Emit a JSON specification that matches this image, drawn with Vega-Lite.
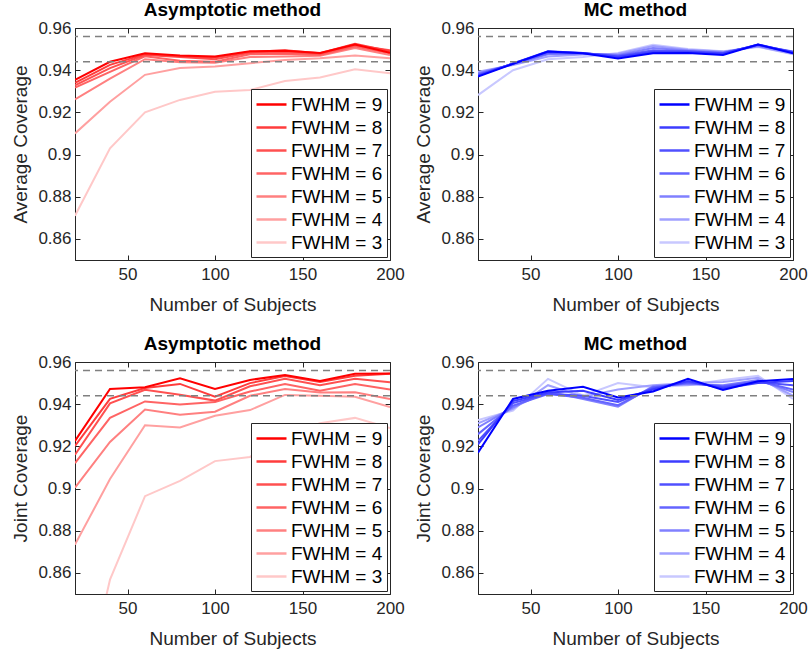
{
  "$schema": "https://vega.github.io/schema/vega-lite/v6.json",
  "padding": {"left": 11, "top": 0, "right": 0, "bottom": 5},
  "background": "white",
  "datasets": {
    "refs": [{"ref": 0.944}, {"ref": 0.956}],
    "cov": [
      {"p":"TL","f":"FWHM = 3","n":20,"c":0.8710},{"p":"TL","f":"FWHM = 3","n":40,"c":0.9030},{"p":"TL","f":"FWHM = 3","n":60,"c":0.9200},{"p":"TL","f":"FWHM = 3","n":80,"c":0.9259},{"p":"TL","f":"FWHM = 3","n":100,"c":0.9298},{"p":"TL","f":"FWHM = 3","n":120,"c":0.9306},{"p":"TL","f":"FWHM = 3","n":140,"c":0.9349},{"p":"TL","f":"FWHM = 3","n":160,"c":0.9365},{"p":"TL","f":"FWHM = 3","n":180,"c":0.9404},{"p":"TL","f":"FWHM = 3","n":200,"c":0.9385},
      {"p":"TL","f":"FWHM = 4","n":20,"c":0.9100},{"p":"TL","f":"FWHM = 4","n":40,"c":0.9250},{"p":"TL","f":"FWHM = 4","n":60,"c":0.9378},{"p":"TL","f":"FWHM = 4","n":80,"c":0.9410},{"p":"TL","f":"FWHM = 4","n":100,"c":0.9417},{"p":"TL","f":"FWHM = 4","n":120,"c":0.9433},{"p":"TL","f":"FWHM = 4","n":140,"c":0.9448},{"p":"TL","f":"FWHM = 4","n":160,"c":0.9456},{"p":"TL","f":"FWHM = 4","n":180,"c":0.9470},{"p":"TL","f":"FWHM = 4","n":200,"c":0.9456},
      {"p":"TL","f":"FWHM = 5","n":20,"c":0.9262},{"p":"TL","f":"FWHM = 5","n":40,"c":0.9360},{"p":"TL","f":"FWHM = 5","n":60,"c":0.9452},{"p":"TL","f":"FWHM = 5","n":80,"c":0.9438},{"p":"TL","f":"FWHM = 5","n":100,"c":0.9435},{"p":"TL","f":"FWHM = 5","n":120,"c":0.9462},{"p":"TL","f":"FWHM = 5","n":140,"c":0.9465},{"p":"TL","f":"FWHM = 5","n":160,"c":0.9468},{"p":"TL","f":"FWHM = 5","n":180,"c":0.9505},{"p":"TL","f":"FWHM = 5","n":200,"c":0.9472},
      {"p":"TL","f":"FWHM = 6","n":20,"c":0.9318},{"p":"TL","f":"FWHM = 6","n":40,"c":0.9392},{"p":"TL","f":"FWHM = 6","n":60,"c":0.9466},{"p":"TL","f":"FWHM = 6","n":80,"c":0.9445},{"p":"TL","f":"FWHM = 6","n":100,"c":0.9440},{"p":"TL","f":"FWHM = 6","n":120,"c":0.9475},{"p":"TL","f":"FWHM = 6","n":140,"c":0.9478},{"p":"TL","f":"FWHM = 6","n":160,"c":0.9472},{"p":"TL","f":"FWHM = 6","n":180,"c":0.9512},{"p":"TL","f":"FWHM = 6","n":200,"c":0.9480},
      {"p":"TL","f":"FWHM = 7","n":20,"c":0.9328},{"p":"TL","f":"FWHM = 7","n":40,"c":0.9410},{"p":"TL","f":"FWHM = 7","n":60,"c":0.9472},{"p":"TL","f":"FWHM = 7","n":80,"c":0.9462},{"p":"TL","f":"FWHM = 7","n":100,"c":0.9452},{"p":"TL","f":"FWHM = 7","n":120,"c":0.9482},{"p":"TL","f":"FWHM = 7","n":140,"c":0.9485},{"p":"TL","f":"FWHM = 7","n":160,"c":0.9478},{"p":"TL","f":"FWHM = 7","n":180,"c":0.9518},{"p":"TL","f":"FWHM = 7","n":200,"c":0.9495},
      {"p":"TL","f":"FWHM = 8","n":20,"c":0.9340},{"p":"TL","f":"FWHM = 8","n":40,"c":0.9425},{"p":"TL","f":"FWHM = 8","n":60,"c":0.9476},{"p":"TL","f":"FWHM = 8","n":80,"c":0.9466},{"p":"TL","f":"FWHM = 8","n":100,"c":0.9460},{"p":"TL","f":"FWHM = 8","n":120,"c":0.9487},{"p":"TL","f":"FWHM = 8","n":140,"c":0.9495},{"p":"TL","f":"FWHM = 8","n":160,"c":0.9480},{"p":"TL","f":"FWHM = 8","n":180,"c":0.9525},{"p":"TL","f":"FWHM = 8","n":200,"c":0.9490},
      {"p":"TL","f":"FWHM = 9","n":20,"c":0.9354},{"p":"TL","f":"FWHM = 9","n":40,"c":0.9440},{"p":"TL","f":"FWHM = 9","n":60,"c":0.9480},{"p":"TL","f":"FWHM = 9","n":80,"c":0.9470},{"p":"TL","f":"FWHM = 9","n":100,"c":0.9465},{"p":"TL","f":"FWHM = 9","n":120,"c":0.9490},{"p":"TL","f":"FWHM = 9","n":140,"c":0.9492},{"p":"TL","f":"FWHM = 9","n":160,"c":0.9482},{"p":"TL","f":"FWHM = 9","n":180,"c":0.9522},{"p":"TL","f":"FWHM = 9","n":200,"c":0.9482},

      {"p":"TR","f":"FWHM = 3","n":20,"c":0.9282},{"p":"TR","f":"FWHM = 3","n":40,"c":0.9400},{"p":"TR","f":"FWHM = 3","n":60,"c":0.9452},{"p":"TR","f":"FWHM = 3","n":80,"c":0.9462},{"p":"TR","f":"FWHM = 3","n":100,"c":0.9482},{"p":"TR","f":"FWHM = 3","n":120,"c":0.9520},{"p":"TR","f":"FWHM = 3","n":140,"c":0.9500},{"p":"TR","f":"FWHM = 3","n":160,"c":0.9490},{"p":"TR","f":"FWHM = 3","n":180,"c":0.9510},{"p":"TR","f":"FWHM = 3","n":200,"c":0.9475},
      {"p":"TR","f":"FWHM = 4","n":20,"c":0.9393},{"p":"TR","f":"FWHM = 4","n":40,"c":0.9425},{"p":"TR","f":"FWHM = 4","n":60,"c":0.9465},{"p":"TR","f":"FWHM = 4","n":80,"c":0.9474},{"p":"TR","f":"FWHM = 4","n":100,"c":0.9478},{"p":"TR","f":"FWHM = 4","n":120,"c":0.9515},{"p":"TR","f":"FWHM = 4","n":140,"c":0.9497},{"p":"TR","f":"FWHM = 4","n":160,"c":0.9488},{"p":"TR","f":"FWHM = 4","n":180,"c":0.9512},{"p":"TR","f":"FWHM = 4","n":200,"c":0.9478},
      {"p":"TR","f":"FWHM = 5","n":20,"c":0.9385},{"p":"TR","f":"FWHM = 5","n":40,"c":0.9428},{"p":"TR","f":"FWHM = 5","n":60,"c":0.9475},{"p":"TR","f":"FWHM = 5","n":80,"c":0.9478},{"p":"TR","f":"FWHM = 5","n":100,"c":0.9472},{"p":"TR","f":"FWHM = 5","n":120,"c":0.9505},{"p":"TR","f":"FWHM = 5","n":140,"c":0.9493},{"p":"TR","f":"FWHM = 5","n":160,"c":0.9485},{"p":"TR","f":"FWHM = 5","n":180,"c":0.9515},{"p":"TR","f":"FWHM = 5","n":200,"c":0.9482},
      {"p":"TR","f":"FWHM = 6","n":20,"c":0.9380},{"p":"TR","f":"FWHM = 6","n":40,"c":0.9430},{"p":"TR","f":"FWHM = 6","n":60,"c":0.9480},{"p":"TR","f":"FWHM = 6","n":80,"c":0.9480},{"p":"TR","f":"FWHM = 6","n":100,"c":0.9468},{"p":"TR","f":"FWHM = 6","n":120,"c":0.9495},{"p":"TR","f":"FWHM = 6","n":140,"c":0.9490},{"p":"TR","f":"FWHM = 6","n":160,"c":0.9482},{"p":"TR","f":"FWHM = 6","n":180,"c":0.9518},{"p":"TR","f":"FWHM = 6","n":200,"c":0.9488},
      {"p":"TR","f":"FWHM = 7","n":20,"c":0.9376},{"p":"TR","f":"FWHM = 7","n":40,"c":0.9432},{"p":"TR","f":"FWHM = 7","n":60,"c":0.9485},{"p":"TR","f":"FWHM = 7","n":80,"c":0.9481},{"p":"TR","f":"FWHM = 7","n":100,"c":0.9465},{"p":"TR","f":"FWHM = 7","n":120,"c":0.9490},{"p":"TR","f":"FWHM = 7","n":140,"c":0.9488},{"p":"TR","f":"FWHM = 7","n":160,"c":0.9480},{"p":"TR","f":"FWHM = 7","n":180,"c":0.9520},{"p":"TR","f":"FWHM = 7","n":200,"c":0.9486},
      {"p":"TR","f":"FWHM = 8","n":20,"c":0.9373},{"p":"TR","f":"FWHM = 8","n":40,"c":0.9432},{"p":"TR","f":"FWHM = 8","n":60,"c":0.9490},{"p":"TR","f":"FWHM = 8","n":80,"c":0.9482},{"p":"TR","f":"FWHM = 8","n":100,"c":0.9462},{"p":"TR","f":"FWHM = 8","n":120,"c":0.9485},{"p":"TR","f":"FWHM = 8","n":140,"c":0.9485},{"p":"TR","f":"FWHM = 8","n":160,"c":0.9478},{"p":"TR","f":"FWHM = 8","n":180,"c":0.9522},{"p":"TR","f":"FWHM = 8","n":200,"c":0.9484},
      {"p":"TR","f":"FWHM = 9","n":20,"c":0.9370},{"p":"TR","f":"FWHM = 9","n":40,"c":0.9430},{"p":"TR","f":"FWHM = 9","n":60,"c":0.9488},{"p":"TR","f":"FWHM = 9","n":80,"c":0.9480},{"p":"TR","f":"FWHM = 9","n":100,"c":0.9455},{"p":"TR","f":"FWHM = 9","n":120,"c":0.9480},{"p":"TR","f":"FWHM = 9","n":140,"c":0.9482},{"p":"TR","f":"FWHM = 9","n":160,"c":0.9472},{"p":"TR","f":"FWHM = 9","n":180,"c":0.9522},{"p":"TR","f":"FWHM = 9","n":200,"c":0.9480},

      {"p":"BL","f":"FWHM = 3","n":20,"c":0.7850},{"p":"BL","f":"FWHM = 3","n":40,"c":0.8568},{"p":"BL","f":"FWHM = 3","n":60,"c":0.8964},{"p":"BL","f":"FWHM = 3","n":80,"c":0.9036},{"p":"BL","f":"FWHM = 3","n":100,"c":0.9130},{"p":"BL","f":"FWHM = 3","n":120,"c":0.9150},{"p":"BL","f":"FWHM = 3","n":140,"c":0.9250},{"p":"BL","f":"FWHM = 3","n":160,"c":0.9310},{"p":"BL","f":"FWHM = 3","n":180,"c":0.9335},{"p":"BL","f":"FWHM = 3","n":200,"c":0.9287},
      {"p":"BL","f":"FWHM = 4","n":20,"c":0.8734},{"p":"BL","f":"FWHM = 4","n":40,"c":0.9045},{"p":"BL","f":"FWHM = 4","n":60,"c":0.9300},{"p":"BL","f":"FWHM = 4","n":80,"c":0.9290},{"p":"BL","f":"FWHM = 4","n":100,"c":0.9345},{"p":"BL","f":"FWHM = 4","n":120,"c":0.9372},{"p":"BL","f":"FWHM = 4","n":140,"c":0.9444},{"p":"BL","f":"FWHM = 4","n":160,"c":0.9440},{"p":"BL","f":"FWHM = 4","n":180,"c":0.9435},{"p":"BL","f":"FWHM = 4","n":200,"c":0.9387},
      {"p":"BL","f":"FWHM = 5","n":20,"c":0.9004},{"p":"BL","f":"FWHM = 5","n":40,"c":0.9221},{"p":"BL","f":"FWHM = 5","n":60,"c":0.9375},{"p":"BL","f":"FWHM = 5","n":80,"c":0.9350},{"p":"BL","f":"FWHM = 5","n":100,"c":0.9364},{"p":"BL","f":"FWHM = 5","n":120,"c":0.9440},{"p":"BL","f":"FWHM = 5","n":140,"c":0.9472},{"p":"BL","f":"FWHM = 5","n":160,"c":0.9455},{"p":"BL","f":"FWHM = 5","n":180,"c":0.9456},{"p":"BL","f":"FWHM = 5","n":200,"c":0.9425},
      {"p":"BL","f":"FWHM = 6","n":20,"c":0.9120},{"p":"BL","f":"FWHM = 6","n":40,"c":0.9335},{"p":"BL","f":"FWHM = 6","n":60,"c":0.9413},{"p":"BL","f":"FWHM = 6","n":80,"c":0.9398},{"p":"BL","f":"FWHM = 6","n":100,"c":0.9410},{"p":"BL","f":"FWHM = 6","n":120,"c":0.9460},{"p":"BL","f":"FWHM = 6","n":140,"c":0.9496},{"p":"BL","f":"FWHM = 6","n":160,"c":0.9464},{"p":"BL","f":"FWHM = 6","n":180,"c":0.9496},{"p":"BL","f":"FWHM = 6","n":200,"c":0.9470},
      {"p":"BL","f":"FWHM = 7","n":20,"c":0.9160},{"p":"BL","f":"FWHM = 7","n":40,"c":0.9404},{"p":"BL","f":"FWHM = 7","n":60,"c":0.9468},{"p":"BL","f":"FWHM = 7","n":80,"c":0.9445},{"p":"BL","f":"FWHM = 7","n":100,"c":0.9417},{"p":"BL","f":"FWHM = 7","n":120,"c":0.9485},{"p":"BL","f":"FWHM = 7","n":140,"c":0.9520},{"p":"BL","f":"FWHM = 7","n":160,"c":0.9490},{"p":"BL","f":"FWHM = 7","n":180,"c":0.9520},{"p":"BL","f":"FWHM = 7","n":200,"c":0.9504},
      {"p":"BL","f":"FWHM = 8","n":20,"c":0.9202},{"p":"BL","f":"FWHM = 8","n":40,"c":0.9425},{"p":"BL","f":"FWHM = 8","n":60,"c":0.9477},{"p":"BL","f":"FWHM = 8","n":80,"c":0.9496},{"p":"BL","f":"FWHM = 8","n":100,"c":0.9435},{"p":"BL","f":"FWHM = 8","n":120,"c":0.9500},{"p":"BL","f":"FWHM = 8","n":140,"c":0.9533},{"p":"BL","f":"FWHM = 8","n":160,"c":0.9505},{"p":"BL","f":"FWHM = 8","n":180,"c":0.9535},{"p":"BL","f":"FWHM = 8","n":200,"c":0.9544},
      {"p":"BL","f":"FWHM = 9","n":20,"c":0.9226},{"p":"BL","f":"FWHM = 9","n":40,"c":0.9472},{"p":"BL","f":"FWHM = 9","n":60,"c":0.9480},{"p":"BL","f":"FWHM = 9","n":80,"c":0.9523},{"p":"BL","f":"FWHM = 9","n":100,"c":0.9472},{"p":"BL","f":"FWHM = 9","n":120,"c":0.9515},{"p":"BL","f":"FWHM = 9","n":140,"c":0.9538},{"p":"BL","f":"FWHM = 9","n":160,"c":0.9510},{"p":"BL","f":"FWHM = 9","n":180,"c":0.9544},{"p":"BL","f":"FWHM = 9","n":200,"c":0.9546},

      {"p":"BR","f":"FWHM = 3","n":20,"c":0.9325},{"p":"BR","f":"FWHM = 3","n":40,"c":0.9370},{"p":"BR","f":"FWHM = 3","n":60,"c":0.9520},{"p":"BR","f":"FWHM = 3","n":80,"c":0.9440},{"p":"BR","f":"FWHM = 3","n":100,"c":0.9500},{"p":"BR","f":"FWHM = 3","n":120,"c":0.9480},{"p":"BR","f":"FWHM = 3","n":140,"c":0.9490},{"p":"BR","f":"FWHM = 3","n":160,"c":0.9515},{"p":"BR","f":"FWHM = 3","n":180,"c":0.9535},{"p":"BR","f":"FWHM = 3","n":200,"c":0.9425},
      {"p":"BR","f":"FWHM = 4","n":20,"c":0.9309},{"p":"BR","f":"FWHM = 4","n":40,"c":0.9378},{"p":"BR","f":"FWHM = 4","n":60,"c":0.9490},{"p":"BR","f":"FWHM = 4","n":80,"c":0.9435},{"p":"BR","f":"FWHM = 4","n":100,"c":0.9470},{"p":"BR","f":"FWHM = 4","n":120,"c":0.9490},{"p":"BR","f":"FWHM = 4","n":140,"c":0.9500},{"p":"BR","f":"FWHM = 4","n":160,"c":0.9505},{"p":"BR","f":"FWHM = 4","n":180,"c":0.9525},{"p":"BR","f":"FWHM = 4","n":200,"c":0.9440},
      {"p":"BR","f":"FWHM = 5","n":20,"c":0.9290},{"p":"BR","f":"FWHM = 5","n":40,"c":0.9385},{"p":"BR","f":"FWHM = 5","n":60,"c":0.9460},{"p":"BR","f":"FWHM = 5","n":80,"c":0.9425},{"p":"BR","f":"FWHM = 5","n":100,"c":0.9388},{"p":"BR","f":"FWHM = 5","n":120,"c":0.9485},{"p":"BR","f":"FWHM = 5","n":140,"c":0.9495},{"p":"BR","f":"FWHM = 5","n":160,"c":0.9490},{"p":"BR","f":"FWHM = 5","n":180,"c":0.9515},{"p":"BR","f":"FWHM = 5","n":200,"c":0.9457},
      {"p":"BR","f":"FWHM = 6","n":20,"c":0.9258},{"p":"BR","f":"FWHM = 6","n":40,"c":0.9393},{"p":"BR","f":"FWHM = 6","n":60,"c":0.9448},{"p":"BR","f":"FWHM = 6","n":80,"c":0.9430},{"p":"BR","f":"FWHM = 6","n":100,"c":0.9395},{"p":"BR","f":"FWHM = 6","n":120,"c":0.9480},{"p":"BR","f":"FWHM = 6","n":140,"c":0.9500},{"p":"BR","f":"FWHM = 6","n":160,"c":0.9485},{"p":"BR","f":"FWHM = 6","n":180,"c":0.9510},{"p":"BR","f":"FWHM = 6","n":200,"c":0.9470},
      {"p":"BR","f":"FWHM = 7","n":20,"c":0.9226},{"p":"BR","f":"FWHM = 7","n":40,"c":0.9405},{"p":"BR","f":"FWHM = 7","n":60,"c":0.9450},{"p":"BR","f":"FWHM = 7","n":80,"c":0.9440},{"p":"BR","f":"FWHM = 7","n":100,"c":0.9410},{"p":"BR","f":"FWHM = 7","n":120,"c":0.9475},{"p":"BR","f":"FWHM = 7","n":140,"c":0.9505},{"p":"BR","f":"FWHM = 7","n":160,"c":0.9480},{"p":"BR","f":"FWHM = 7","n":180,"c":0.9505},{"p":"BR","f":"FWHM = 7","n":200,"c":0.9490},
      {"p":"BR","f":"FWHM = 8","n":20,"c":0.9210},{"p":"BR","f":"FWHM = 8","n":40,"c":0.9415},{"p":"BR","f":"FWHM = 8","n":60,"c":0.9455},{"p":"BR","f":"FWHM = 8","n":80,"c":0.9464},{"p":"BR","f":"FWHM = 8","n":100,"c":0.9420},{"p":"BR","f":"FWHM = 8","n":120,"c":0.9470},{"p":"BR","f":"FWHM = 8","n":140,"c":0.9510},{"p":"BR","f":"FWHM = 8","n":160,"c":0.9475},{"p":"BR","f":"FWHM = 8","n":180,"c":0.9500},{"p":"BR","f":"FWHM = 8","n":200,"c":0.9510},
      {"p":"BR","f":"FWHM = 9","n":20,"c":0.9170},{"p":"BR","f":"FWHM = 9","n":40,"c":0.9425},{"p":"BR","f":"FWHM = 9","n":60,"c":0.9464},{"p":"BR","f":"FWHM = 9","n":80,"c":0.9483},{"p":"BR","f":"FWHM = 9","n":100,"c":0.9432},{"p":"BR","f":"FWHM = 9","n":120,"c":0.9460},{"p":"BR","f":"FWHM = 9","n":140,"c":0.9520},{"p":"BR","f":"FWHM = 9","n":160,"c":0.9467},{"p":"BR","f":"FWHM = 9","n":180,"c":0.9509},{"p":"BR","f":"FWHM = 9","n":200,"c":0.9520}
    ]
  },
  "columns": 2,
  "spacing": {"row": 19, "column": 9},
  "resolve": {"scale": {"color": "independent"}},
  "concat": [
    {
      "title": "Asymptotic method",
      "width": 315, "height": 232,
      "resolve": {"axis": {"x": "independent", "y": "independent"}},
      "layer": [
        {
          "data": {"name": "cov"},
          "transform": [{"filter": "datum.p == 'TL'"}],
          "mark": {"type": "line", "strokeWidth": 2, "clip": true},
          "encoding": {
            "x": {"field": "n", "type": "quantitative", "title": "Number of Subjects", "scale": {"domain": [20, 200], "nice": false, "zero": false}, "axis": {"values": [50, 100, 150, 200]}},
            "y": {"field": "c", "type": "quantitative", "title": "Average Coverage", "scale": {"domain": [0.85, 0.96], "nice": false, "zero": false}, "axis": {"values": [0.86, 0.88, 0.9, 0.92, 0.94, 0.96], "format": ".2~f"}},
            "color": {"field": "f", "type": "nominal", "scale": {"domain": ["FWHM = 9","FWHM = 8","FWHM = 7","FWHM = 6","FWHM = 5","FWHM = 4","FWHM = 3"], "range": ["#ff0000","#ff3c3c","#ff5050","#ff6464","#ff8080","#ffa0a0","#ffc8c8"]}, "legend": {"title": null}}
          }
        },
        {
          "data": {"name": "refs"},
          "mark": {"type": "rule", "color": "#808080", "strokeDash": [7, 5], "strokeWidth": 1.5},
          "encoding": {"y": {"field": "ref", "type": "quantitative", "axis": null}}
        },
        {
          "data": {"name": "cov"},
          "transform": [{"filter": "datum.p == 'TL'"}],
          "mark": {"type": "point", "opacity": 0},
          "encoding": {
            "x": {"field": "n", "type": "quantitative", "axis": {"orient": "top", "values": [50, 100, 150, 200], "labels": false, "title": null, "domain": false}},
            "y": {"field": "c", "type": "quantitative", "axis": {"orient": "right", "values": [0.86, 0.88, 0.9, 0.92, 0.94, 0.96], "labels": false, "title": null, "domain": false}}
          }
        }
      ]
    },
    {
      "title": "MC method",
      "width": 315, "height": 232,
      "resolve": {"axis": {"x": "independent", "y": "independent"}},
      "layer": [
        {
          "data": {"name": "cov"},
          "transform": [{"filter": "datum.p == 'TR'"}],
          "mark": {"type": "line", "strokeWidth": 2, "clip": true},
          "encoding": {
            "x": {"field": "n", "type": "quantitative", "title": "Number of Subjects", "scale": {"domain": [20, 200], "nice": false, "zero": false}, "axis": {"values": [50, 100, 150, 200]}},
            "y": {"field": "c", "type": "quantitative", "title": "Average Coverage", "scale": {"domain": [0.85, 0.96], "nice": false, "zero": false}, "axis": {"values": [0.86, 0.88, 0.9, 0.92, 0.94, 0.96], "format": ".2~f"}},
            "color": {"field": "f", "type": "nominal", "scale": {"domain": ["FWHM = 9","FWHM = 8","FWHM = 7","FWHM = 6","FWHM = 5","FWHM = 4","FWHM = 3"], "range": ["#0000ff","#3c3cff","#5050ff","#6464ff","#8080ff","#a0a0ff","#c8c8ff"]}, "legend": {"title": null}}
          }
        },
        {
          "data": {"name": "refs"},
          "mark": {"type": "rule", "color": "#808080", "strokeDash": [7, 5], "strokeWidth": 1.5},
          "encoding": {"y": {"field": "ref", "type": "quantitative", "axis": null}}
        },
        {
          "data": {"name": "cov"},
          "transform": [{"filter": "datum.p == 'TR'"}],
          "mark": {"type": "point", "opacity": 0},
          "encoding": {
            "x": {"field": "n", "type": "quantitative", "axis": {"orient": "top", "values": [50, 100, 150, 200], "labels": false, "title": null, "domain": false}},
            "y": {"field": "c", "type": "quantitative", "axis": {"orient": "right", "values": [0.86, 0.88, 0.9, 0.92, 0.94, 0.96], "labels": false, "title": null, "domain": false}}
          }
        }
      ]
    },
    {
      "title": "Asymptotic method",
      "width": 315, "height": 232,
      "resolve": {"axis": {"x": "independent", "y": "independent"}},
      "layer": [
        {
          "data": {"name": "cov"},
          "transform": [{"filter": "datum.p == 'BL'"}],
          "mark": {"type": "line", "strokeWidth": 2, "clip": true},
          "encoding": {
            "x": {"field": "n", "type": "quantitative", "title": "Number of Subjects", "scale": {"domain": [20, 200], "nice": false, "zero": false}, "axis": {"values": [50, 100, 150, 200]}},
            "y": {"field": "c", "type": "quantitative", "title": "Joint Coverage", "scale": {"domain": [0.85, 0.96], "nice": false, "zero": false}, "axis": {"values": [0.86, 0.88, 0.9, 0.92, 0.94, 0.96], "format": ".2~f"}},
            "color": {"field": "f", "type": "nominal", "scale": {"domain": ["FWHM = 9","FWHM = 8","FWHM = 7","FWHM = 6","FWHM = 5","FWHM = 4","FWHM = 3"], "range": ["#ff0000","#ff3c3c","#ff5050","#ff6464","#ff8080","#ffa0a0","#ffc8c8"]}, "legend": {"title": null}}
          }
        },
        {
          "data": {"name": "refs"},
          "mark": {"type": "rule", "color": "#808080", "strokeDash": [7, 5], "strokeWidth": 1.5},
          "encoding": {"y": {"field": "ref", "type": "quantitative", "axis": null}}
        },
        {
          "data": {"name": "cov"},
          "transform": [{"filter": "datum.p == 'BL'"}],
          "mark": {"type": "point", "opacity": 0},
          "encoding": {
            "x": {"field": "n", "type": "quantitative", "axis": {"orient": "top", "values": [50, 100, 150, 200], "labels": false, "title": null, "domain": false}},
            "y": {"field": "c", "type": "quantitative", "axis": {"orient": "right", "values": [0.86, 0.88, 0.9, 0.92, 0.94, 0.96], "labels": false, "title": null, "domain": false}}
          }
        }
      ]
    },
    {
      "title": "MC method",
      "width": 315, "height": 232,
      "resolve": {"axis": {"x": "independent", "y": "independent"}},
      "layer": [
        {
          "data": {"name": "cov"},
          "transform": [{"filter": "datum.p == 'BR'"}],
          "mark": {"type": "line", "strokeWidth": 2, "clip": true},
          "encoding": {
            "x": {"field": "n", "type": "quantitative", "title": "Number of Subjects", "scale": {"domain": [20, 200], "nice": false, "zero": false}, "axis": {"values": [50, 100, 150, 200]}},
            "y": {"field": "c", "type": "quantitative", "title": "Joint Coverage", "scale": {"domain": [0.85, 0.96], "nice": false, "zero": false}, "axis": {"values": [0.86, 0.88, 0.9, 0.92, 0.94, 0.96], "format": ".2~f"}},
            "color": {"field": "f", "type": "nominal", "scale": {"domain": ["FWHM = 9","FWHM = 8","FWHM = 7","FWHM = 6","FWHM = 5","FWHM = 4","FWHM = 3"], "range": ["#0000ff","#3c3cff","#5050ff","#6464ff","#8080ff","#a0a0ff","#c8c8ff"]}, "legend": {"title": null}}
          }
        },
        {
          "data": {"name": "refs"},
          "mark": {"type": "rule", "color": "#808080", "strokeDash": [7, 5], "strokeWidth": 1.5},
          "encoding": {"y": {"field": "ref", "type": "quantitative", "axis": null}}
        },
        {
          "data": {"name": "cov"},
          "transform": [{"filter": "datum.p == 'BR'"}],
          "mark": {"type": "point", "opacity": 0},
          "encoding": {
            "x": {"field": "n", "type": "quantitative", "axis": {"orient": "top", "values": [50, 100, 150, 200], "labels": false, "title": null, "domain": false}},
            "y": {"field": "c", "type": "quantitative", "axis": {"orient": "right", "values": [0.86, 0.88, 0.9, 0.92, 0.94, 0.96], "labels": false, "title": null, "domain": false}}
          }
        }
      ]
    }
  ],
  "config": {
    "font": "Liberation Sans",
    "view": {"stroke": "#262626", "strokeWidth": 1},
    "title": {"fontSize": 19, "fontWeight": "bold", "color": "#000000", "offset": -1, "font": "Liberation Sans"},
    "axis": {
      "grid": false,
      "domainColor": "#262626",
      "tickColor": "#262626",
      "labelColor": "#262626",
      "titleColor": "#262626",
      "labelFont": "Liberation Sans",
      "titleFont": "Liberation Sans",
      "labelFontSize": 17,
      "titleFontSize": 19,
      "titleFontWeight": "normal",
      "tickSize": -5,
      "labelPadding": 9,
      "labelFlush": false
    },
    "axisX": {"titlePadding": 13, "labelPadding": 11},
    "axisY": {"titlePadding": 7},
    "legend": {
      "orient": "bottom-right",
      "offset": 3,
      "strokeColor": "#262626",
      "fillColor": "white",
      "padding": 4,
      "symbolType": "M-1,0H2",
      "symbolSize": 400,
      "symbolStrokeWidth": 2.5,
      "labelFontSize": 19,
      "labelFont": "Liberation Sans",
      "labelColor": "#000000",
      "labelOffset": 13,
      "rowPadding": 1,
      "labelLimit": 200
    }
  }
}
